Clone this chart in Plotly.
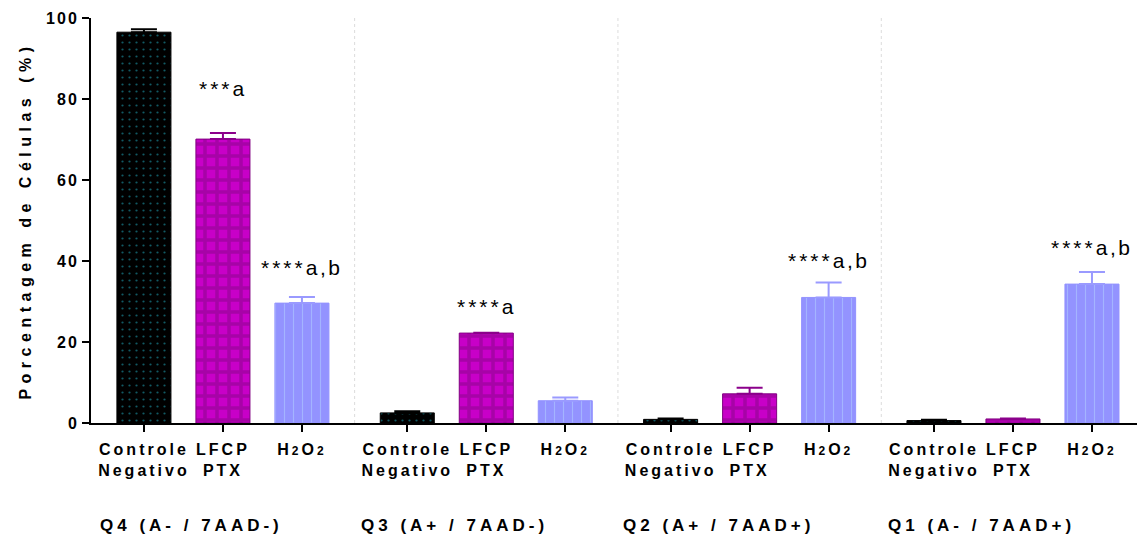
import plotly.graph_objects as go

# Quadrants of the Annexin V / 7-AAD flow cytometry analysis
groups = ["Q4 (A- / 7AAD-)", "Q3 (A+ / 7AAD-)", "Q2 (A+ / 7AAD+)", "Q1 (A- / 7AAD+)"]
treatments = ["Controle Negativo", "LFCP PTX", "H2O2"]

# Mean percentage of cells and SEM per quadrant
controle = [96.5, 2.5, 0.9, 0.6]
controle_err = [0.7, 0.4, 0.2, 0.2]
lfcp = [70.1, 22.2, 7.2, 1.0]
lfcp_err = [1.5, 0.1, 1.5, 0.1]
h2o2 = [29.6, 5.5, 31.0, 34.3]
h2o2_err = [1.5, 0.8, 3.7, 3.0]

# Significance marks: (quadrant index, treatment index, stars, letters)
sig_group = [0, 0, 1, 2, 3]
sig_treat = [1, 2, 1, 2, 2]
sig_stars = ["***", "****", "****", "****", "****"]
sig_letters = ["a", "a,b", "a", "a,b", "a,b"]
sig_offset = [9.0, 5.2, 4.4, 3.3, 3.9]  # gap above the error cap, in axis units

y_ticks = [0, 20, 40, 60, 80, 100]

FONT = "Arial, Liberation Sans, sans-serif"
GAP = 1 / 3          # extra space between quadrants
BAR_W = 0.684


def spaced(s, px):
    return f'<span style="letter-spacing:{px}px">{s}</span>'


def pos(g, i):
    return g * (3 + GAP) + i


series = [
    dict(y=controle, err=controle_err, fill="black", line="black", err_col="black",
         pattern=dict(shape=".", bgcolor="black", fgcolor="#22b4c8", size=7, solidity=0.08)),
    dict(y=lfcp, err=lfcp_err, fill="#c800c8", line="#800080", err_col="#8b008b",
         pattern=dict(shape="+", bgcolor="#c800c8", fgcolor="#850585", size=12, solidity=0.5)),
    dict(y=h2o2, err=h2o2_err, fill="#9393ff", line="#9393ff", err_col="#9a9aff",
         pattern=dict(shape="|", bgcolor="#9393ff", fgcolor="#b5d6ff", size=9, solidity=0.12)),
]

fig = go.Figure()
for i, (name, s) in enumerate(zip(treatments, series)):
    fig.add_trace(go.Bar(
        name=name,
        x=[pos(g, i) for g in range(len(groups))],
        y=s["y"],
        width=BAR_W,
        marker=dict(color=s["fill"], line=dict(color=s["line"], width=1), pattern=s["pattern"]),
        error_y=dict(type="data", symmetric=False, array=s["err"], arrayminus=[0] * len(groups),
                     color=s["err_col"], thickness=2, width=13),
    ))

# x tick labels (two lines, wide letter spacing)
small = '<span style="font-size:12px">2</span>'
tick_labels = [
    spaced("Controle", 3) + "<br>" + spaced("Negativo", 3),
    spaced("LFCP", 3) + "<br>" + spaced("PTX", 3),
    spaced("H" + small + "O" + small, 3),
]
tickvals, ticktext = [], []
for g in range(len(groups)):
    for i in range(3):
        tickvals.append(pos(g, i))
        ticktext.append(tick_labels[i])

# dotted separators between quadrants
for g in range(len(groups) - 1):
    xs = (pos(g, 2) + pos(g + 1, 0)) / 2
    fig.add_shape(type="line", xref="x", yref="y", x0=xs, x1=xs, y0=0, y1=100,
                  line=dict(color="#dcdcdc", width=1, dash="dot"), layer="below")

# quadrant names below the axis
for g, name in enumerate(groups):
    fig.add_annotation(x=pos(g, 1) - 0.4, y=-0.252, xref="x", yref="paper",
                       text=spaced(name, 4), showarrow=False, xanchor="center", yanchor="middle",
                       font=dict(family=FONT, size=17, color="black", weight="bold"))

# significance annotations
all_y = [controle, lfcp, h2o2]
all_e = [controle_err, lfcp_err, h2o2_err]
for g, t, stars, letters, off in zip(sig_group, sig_treat, sig_stars, sig_letters, sig_offset):
    top = all_y[t][g] + all_e[t][g] + off
    fig.add_annotation(x=pos(g, t), y=top, xref="x", yref="y",
                       text=spaced(stars, 3) + spaced(letters, 2.5),
                       showarrow=False, xanchor="center", yanchor="bottom", yshift=-5,
                       font=dict(family=FONT, size=21, color="black"))

fig.update_layout(
    width=1137, height=536,
    margin=dict(l=91, r=0, t=18, b=113),
    paper_bgcolor="white", plot_bgcolor="white",
    showlegend=False, barmode="overlay",
    font=dict(family=FONT, color="black"),
    xaxis=dict(
        range=[-0.67, 12.57], tickmode="array", tickvals=tickvals, ticktext=ticktext,
        ticks="outside", ticklen=7, tickwidth=2, tickcolor="black", ticklabelstandoff=4,
        showline=True, linecolor="black", linewidth=2, showgrid=False, zeroline=False,
        tickfont=dict(family=FONT, size=16, color="black", weight="bold"),
    ),
    yaxis=dict(
        range=[0, 100], tickmode="array", tickvals=y_ticks,
        ticktext=[spaced(str(v), 2) for v in y_ticks],
        ticks="outside", ticklen=7, tickwidth=2, tickcolor="black",
        showline=True, linecolor="black", linewidth=2, showgrid=False, zeroline=False,
        tickfont=dict(family=FONT, size=16, color="black", weight="bold"),
        title=dict(text=spaced("Porcentagem de Células (%)", 5.5), standoff=10,
                   font=dict(family=FONT, size=16, color="black", weight="bold")),
    ),
)

fig.write_html("out.html")
